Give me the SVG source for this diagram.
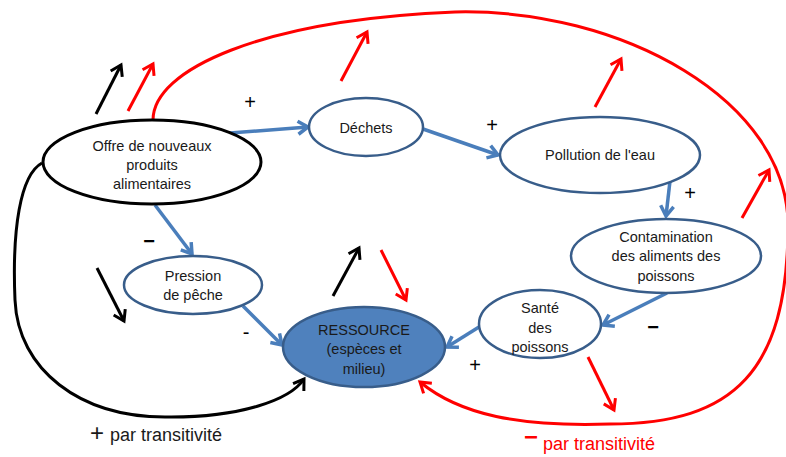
<svg xmlns="http://www.w3.org/2000/svg" width="786" height="457" viewBox="0 0 786 457">
<style>
text{font-family:"Liberation Sans",Arial,sans-serif;fill:#1a1a1a}
.n{font-size:14.5px;text-anchor:middle}
.s{font-size:20px;text-anchor:middle;fill:#000}
.bl{fill:#fff;stroke:#385d8a;stroke-width:2.5}
.c{fill:none;stroke:#4a7ebb;stroke-width:3.5;marker-end:url(#mb)}
.k{fill:none;stroke:#000;stroke-width:3;marker-end:url(#mk)}
.r{fill:none;stroke:#f00;stroke-width:3;marker-end:url(#mr)}
</style>
<defs>
<marker id="mb" markerUnits="userSpaceOnUse" markerWidth="20" markerHeight="20" refX="12" refY="10" orient="auto" overflow="visible">
<path d="M2 3.5 L12 10 L2 16.5" fill="none" stroke="#4a7ebb" stroke-width="3.5"/>
</marker>
<marker id="mk" markerUnits="userSpaceOnUse" markerWidth="20" markerHeight="20" refX="12" refY="10" orient="auto" overflow="visible">
<path d="M2 3.5 L12 10 L2 16.5" fill="none" stroke="#000" stroke-width="3"/>
</marker>
<marker id="mr" markerUnits="userSpaceOnUse" markerWidth="20" markerHeight="20" refX="12" refY="10" orient="auto" overflow="visible">
<path d="M2 3.5 L12 10 L2 16.5" fill="none" stroke="#f00" stroke-width="3"/>
</marker>
</defs>
<rect width="786" height="457" fill="#fff"/>
<g id="connectors">
<line class="c" x1="230" y1="133" x2="308" y2="127"/>
<line class="c" x1="423" y1="129" x2="498" y2="155"/>
<line class="c" x1="670" y1="181" x2="666" y2="216"/>
<line class="c" x1="667" y1="293" x2="603" y2="325"/>
<line class="c" x1="479" y1="327" x2="447" y2="347"/>
<line class="c" x1="155" y1="205" x2="192" y2="254"/>
<line class="c" x1="243" y1="306" x2="282" y2="345"/>
<path class="k" d="M42 163 C20 175 12 230 15 300 C18 370 80 417 165 417 C240 418 290 400 304 379"/>
<path class="r" d="M153 120 C153 70 260 20 455 12 C620 8 790 100 788 228 C787 370 735 424 610 424 C520 427 460 415 420 382"/>
<line class="k" x1="96" y1="114" x2="121" y2="65"/>
<line class="k" x1="97" y1="268" x2="124" y2="321"/>
<line class="k" x1="333" y1="296" x2="359" y2="248"/>
<line class="r" x1="128" y1="111" x2="153" y2="64"/>
<line class="r" x1="341" y1="81" x2="367" y2="32"/>
<line class="r" x1="595" y1="107" x2="621" y2="59"/>
<line class="r" x1="742" y1="218" x2="769" y2="170"/>
<line class="r" x1="381" y1="250" x2="406" y2="300"/>
<line class="r" x1="588" y1="357" x2="614" y2="410"/>
</g>
<g id="offre">
<ellipse cx="152" cy="162" rx="109" ry="42" fill="#fff" stroke="#000" stroke-width="3"/>
<text class="n" x="152" y="151">Offre de nouveaux</text>
<text class="n" x="152" y="170">produits</text>
<text class="n" x="152" y="189">alimentaires</text>
</g>
<g id="dechets">
<ellipse class="bl" cx="366" cy="127" rx="57" ry="29"/>
<text class="n" x="366" y="133">Déchets</text>
</g>
<g id="pollution">
<ellipse class="bl" cx="600" cy="155" rx="100" ry="38"/>
<text class="n" x="600" y="160">Pollution de l'eau</text>
</g>
<g id="contamination">
<ellipse class="bl" cx="666" cy="256" rx="95" ry="37"/>
<text class="n" x="666" y="242">Contamination</text>
<text class="n" x="666" y="261">des aliments des</text>
<text class="n" x="666" y="281">poissons</text>
</g>
<g id="sante">
<ellipse class="bl" cx="540" cy="324" rx="61" ry="34"/>
<text class="n" x="540" y="313">Santé</text>
<text class="n" x="540" y="333">des</text>
<text class="n" x="540" y="352">poissons</text>
</g>
<g id="pression">
<ellipse class="bl" cx="193" cy="285" rx="69" ry="29"/>
<text class="n" x="193" y="281">Pression</text>
<text class="n" x="193" y="300">de pêche</text>
</g>
<g id="ressource">
<ellipse cx="364" cy="347" rx="81" ry="40" fill="#4f81bd" stroke="#385d8a" stroke-width="2.5"/>
<text class="n" x="364" y="335">RESSOURCE</text>
<text class="n" x="364" y="354">(espèces et</text>
<text class="n" x="364" y="374">milieu)</text>
</g>
<g id="signs">
<text class="s" x="250" y="109">+</text>
<text class="s" x="492" y="132">+</text>
<text class="s" x="690" y="200">+</text>
<text class="s" x="475" y="372">+</text>
<text class="s" x="653" y="334" font-weight="bold">−</text>
<text class="s" x="149" y="248" font-weight="bold">−</text>
<text class="s" x="246" y="339" font-size="16">-</text>
</g>
<g id="legend">
<text x="97" y="441" font-size="24" text-anchor="middle" fill="#000">+</text>
<text x="110" y="441" font-size="18" fill="#000">par transitivité</text>
<text x="531" y="445" font-size="24" text-anchor="middle" font-weight="bold" style="fill:#f00">−</text>
<text x="543" y="450" font-size="18" style="fill:#f00">par transitivité</text>
</g>
</svg>
